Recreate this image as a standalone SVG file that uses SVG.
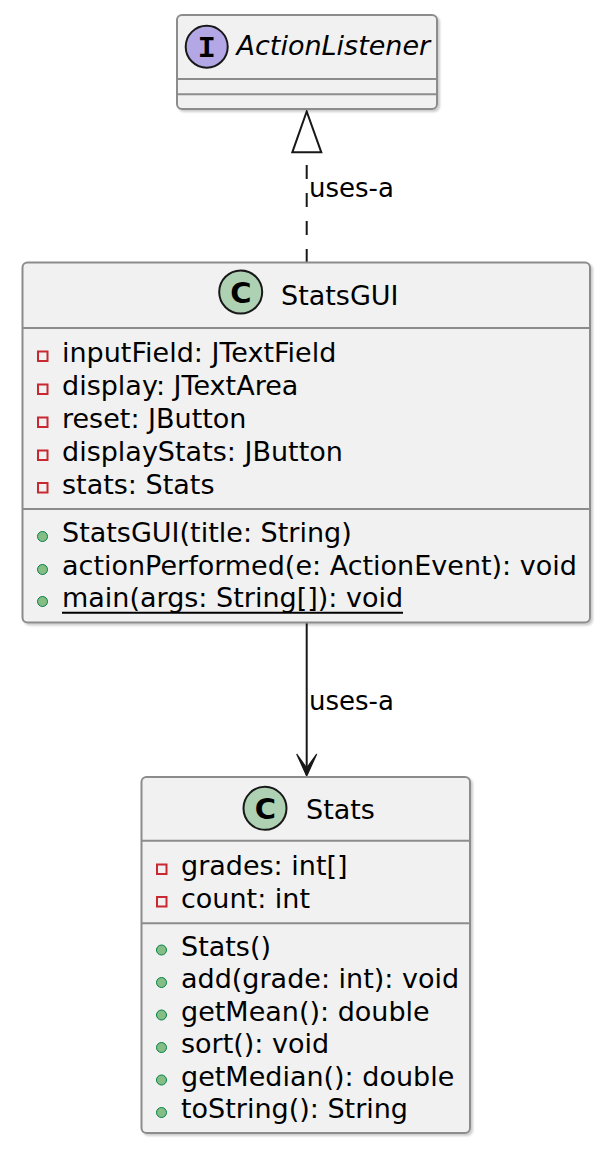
<svg xmlns="http://www.w3.org/2000/svg" width="614" height="1152" viewBox="0 0 614 1152">
<style>
.box{fill:#F1F1F1;stroke:#8C8C8C;stroke-width:2}
.sep{stroke:#8C8C8C;stroke-width:2}
.t{font-family:"DejaVu Sans",sans-serif;font-size:27px;fill:#000}
.h{font-family:"DejaVu Sans",sans-serif;font-size:27px;fill:#000}
.lbl{font-family:"DejaVu Sans",sans-serif;font-size:26px;fill:#000}
.priv{fill:none;stroke:#C82930;stroke-width:2}
.pub{fill:#84BE84;stroke:#038048;stroke-width:1}
.edge{stroke:#181818;stroke-width:2;fill:none}
</style>
<defs>
<filter id="sh" x="-5%" y="-5%" width="110%" height="110%">
<feDropShadow dx="2" dy="2" stdDeviation="1.2" flood-color="#000" flood-opacity="0.2"/>
</filter>
</defs>
<g id="connectors">
<path class="edge" d="M306.7,263 L306.7,152" stroke-dasharray="14,14"/>
<polygon points="306.7,111.5 292.3,152.3 321.3,152.3" fill="#FFFFFF" stroke="#181818" stroke-width="2"/>
<text class="lbl" x="309" y="197">uses-a</text>
<path class="edge" d="M306.7,623 L306.7,775"/>
<polygon points="306.7,776 296.7,754 306.7,768 316.7,754" fill="#181818" stroke="#181818" stroke-width="1.2" stroke-linejoin="miter"/>
<text class="lbl" x="309" y="710">uses-a</text>
</g>
<g id="ActionListener">
<rect class="box" x="177" y="15" width="260" height="94" rx="5" filter="url(#sh)"/>
<line class="sep" x1="177" y1="79" x2="437" y2="79"/>
<line class="sep" x1="177" y1="94.3" x2="437" y2="94.3"/>
<circle cx="206.7" cy="46.7" r="21" fill="#B4A7E5" stroke="#181818" stroke-width="2"/>
<text x="206.7" y="57" text-anchor="middle" font-family="Liberation Mono, monospace" font-weight="bold" font-size="30" fill="#000">I</text>
<text class="h" x="236.5" y="55" font-style="italic">ActionListener</text>
</g>
<g id="StatsGUI">
<rect class="box" x="22.5" y="262.5" width="567.5" height="360" rx="5" filter="url(#sh)"/>
<line class="sep" x1="22.5" y1="328" x2="590" y2="328"/>
<line class="sep" x1="22.5" y1="509" x2="590" y2="509"/>
<circle cx="240.7" cy="292" r="21.5" fill="#ADD1B2" stroke="#181818" stroke-width="2"/>
<text x="241" y="302.5" text-anchor="middle" font-family="DejaVu Sans, sans-serif" font-weight="bold" font-size="29" fill="#000">C</text>
<text class="h" x="281" y="305">StatsGUI</text>
<rect class="priv" x="38" y="351.5" width="9.5" height="9.5"/>
<text class="t" x="62" y="362">inputField: JTextField</text>
<rect class="priv" x="38" y="384.5" width="9.5" height="9.5"/>
<text class="t" x="62" y="395">display: JTextArea</text>
<rect class="priv" x="38" y="417.5" width="9.5" height="9.5"/>
<text class="t" x="62" y="428">reset: JButton</text>
<rect class="priv" x="38" y="450.5" width="9.5" height="9.5"/>
<text class="t" x="62" y="461">displayStats: JButton</text>
<rect class="priv" x="38" y="483" width="9.5" height="9.5"/>
<text class="t" x="62" y="493.5">stats: Stats</text>
<circle class="pub" cx="42.5" cy="536.5" r="5"/>
<text class="t" x="62" y="542">StatsGUI(title: String)</text>
<circle class="pub" cx="42.5" cy="569.5" r="5"/>
<text class="t" x="62" y="575">actionPerformed(e: ActionEvent): void</text>
<circle class="pub" cx="42.5" cy="601.5" r="5"/>
<text class="t" x="62" y="607">main(args: String[]): void</text>
<line x1="62" y1="612.7" x2="403" y2="612.7" stroke="#000" stroke-width="2"/>
</g>
<g id="Stats">
<rect class="box" x="141.5" y="777" width="328.5" height="356" rx="5" filter="url(#sh)"/>
<line class="sep" x1="141.5" y1="840.7" x2="470" y2="840.7"/>
<line class="sep" x1="141.5" y1="923.3" x2="470" y2="923.3"/>
<circle cx="265" cy="808.3" r="21.5" fill="#ADD1B2" stroke="#181818" stroke-width="2"/>
<text x="265.3" y="818.8" text-anchor="middle" font-family="DejaVu Sans, sans-serif" font-weight="bold" font-size="29" fill="#000">C</text>
<text class="h" x="306" y="819.3">Stats</text>
<rect class="priv" x="157" y="864.5" width="9.5" height="9.5"/>
<text class="t" x="181" y="875">grades: int[]</text>
<rect class="priv" x="157" y="897" width="9.5" height="9.5"/>
<text class="t" x="181" y="907.5">count: int</text>
<circle class="pub" cx="161.5" cy="950" r="5"/>
<text class="t" x="181" y="955.5">Stats()</text>
<circle class="pub" cx="161.5" cy="982.5" r="5"/>
<text class="t" x="181" y="988">add(grade: int): void</text>
<circle class="pub" cx="161.5" cy="1015" r="5"/>
<text class="t" x="181" y="1020.5">getMean(): double</text>
<circle class="pub" cx="161.5" cy="1047.5" r="5"/>
<text class="t" x="181" y="1053">sort(): void</text>
<circle class="pub" cx="161.5" cy="1080" r="5"/>
<text class="t" x="181" y="1085.5">getMedian(): double</text>
<circle class="pub" cx="161.5" cy="1112.5" r="5"/>
<text class="t" x="181" y="1118">toString(): String</text>
</g>
</svg>
